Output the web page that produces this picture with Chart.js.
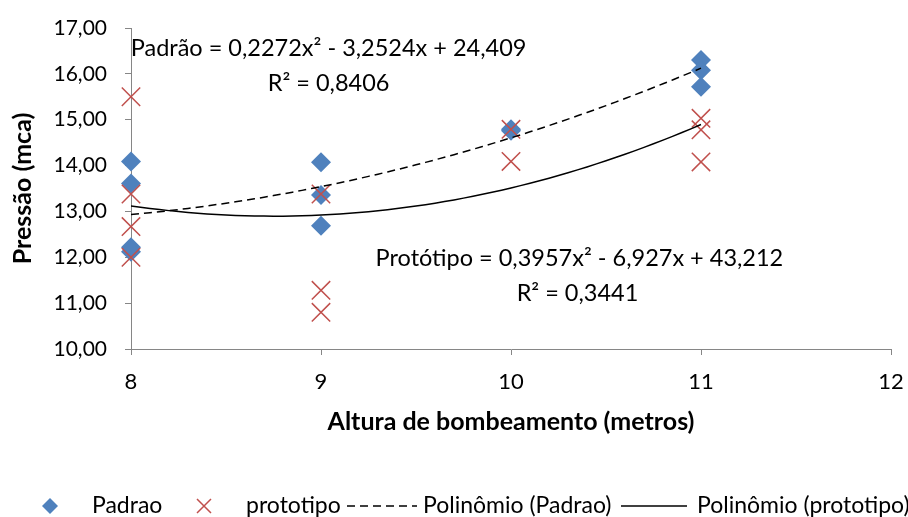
<!DOCTYPE html>
<html>
<head>
<meta charset="utf-8">
<script src="https://cdn.jsdelivr.net/npm/chart.js@4/dist/chart.umd.min.js"></script>
<style>
  body { margin: 0; background: #fff; }
  canvas { display: block; }
</style>
</head>
<body>
<canvas id="grafico" width="908" height="517"></canvas>
<script>
// ==================== dados ===================
const padraoX = [8, 8, 8, 8, 9, 9, 9, 10, 10, 11, 11, 11];
const padraoY = [14.09, 13.61, 12.22, 12.12, 14.07, 13.36, 12.69, 14.79, 14.76, 16.30, 16.08, 15.72];

const prototipoX = [8, 8, 8, 8, 9, 9, 9, 10, 10, 11, 11, 11];
const prototipoY = [15.50, 13.38, 12.67, 12.00, 13.38, 11.28, 10.80, 14.79, 14.09, 15.03, 14.78, 14.08];

const coefPadrao = [0.2272, -3.2524, 24.409];
const coefPrototipo = [0.3957, -6.927, 43.212];
const tendenciaX = [8, 11];

const yTicks = [10, 11, 12, 13, 14, 15, 16, 17];
const xTicks = [8, 9, 10, 11, 12];

const FONTE = "Lato, 'Noto Sans', sans-serif";
const TRACO = [8, 5];

function pontos(xs, ys) {
  return xs.map((x, i) => ({ x: x, y: ys[i] }));
}

// curva a partir da equacao mostrada no grafico
function curva(coef) {
  let pts = [];
  let n = 60;
  for (let i = 0; i <= n; i++) {
    let x = tendenciaX[0] + (tendenciaX[1] - tendenciaX[0]) * i / n;
    pts.push({ x: x, y: coef[0] * x * x + coef[1] * x + coef[2] });
  }
  return pts;
}

// ==================== textos das equacoes ===================
const equacoes = [
  { text: "Padrão = 0,2272x² - 3,2524x + 24,409", x: 9.04, y: 16.56 },
  { text: "R² = 0,8406", x: 9.04, y: 15.80 },
  { text: "Protótipo = 0,3957x² - 6,927x + 43,212", x: 10.36, y: 11.98 },
  { text: "R² = 0,3441", x: 10.35, y: 11.22 },
];

const pluginEquacoes = {
  id: "equacoes",
  afterDatasetsDraw(chart) {
    const ctx = chart.ctx;
    const sx = chart.scales.x;
    const sy = chart.scales.y;
    ctx.save();
    ctx.font = "23.5px " + FONTE;
    ctx.fillStyle = "#000";
    ctx.textAlign = "center";
    ctx.textBaseline = "middle";
    equacoes.forEach((e) => {
      ctx.fillText(e.text, sx.getPixelForValue(e.x), sy.getPixelForValue(e.y));
    });
    ctx.restore();
  },
};

// ==================== legenda ===================
const pluginLegenda = {
  id: "legendaExcel",
  afterDraw(chart) {
    const ctx = chart.ctx;
    const y = 506;
    ctx.save();
    ctx.font = "23px " + FONTE;
    ctx.fillStyle = "#000";
    ctx.textBaseline = "middle";
    ctx.textAlign = "left";

    // diamante
    let x = 50;
    ctx.fillStyle = "#4F81BD";
    ctx.beginPath();
    ctx.moveTo(x, y - 8);
    ctx.lineTo(x + 8, y);
    ctx.lineTo(x, y + 8);
    ctx.lineTo(x - 8, y);
    ctx.closePath();
    ctx.fill();
    ctx.fillStyle = "#000";
    ctx.fillText("Padrao", 92, y);

    // X
    x = 204;
    ctx.strokeStyle = "#C0504D";
    ctx.lineWidth = 1.5;
    ctx.beginPath();
    ctx.moveTo(x - 7, y - 7);
    ctx.lineTo(x + 7, y + 7);
    ctx.moveTo(x + 7, y - 7);
    ctx.lineTo(x - 7, y + 7);
    ctx.stroke();
    ctx.fillText("prototipo", 246, y);

    // tracejada
    ctx.strokeStyle = "#000";
    ctx.lineWidth = 1.5;
    ctx.setLineDash(TRACO);
    ctx.beginPath();
    ctx.moveTo(347, y);
    ctx.lineTo(417, y);
    ctx.stroke();
    ctx.setLineDash([]);
    ctx.fillText("Polinômio (Padrao)", 423, y);

    // continua
    ctx.beginPath();
    ctx.moveTo(621, y);
    ctx.lineTo(687, y);
    ctx.stroke();
    ctx.fillText("Polinômio (prototipo)", 697, y);
    ctx.restore();
  },
};

// ==================== grafico ===================
const ctxGrafico = document.getElementById("grafico").getContext("2d");

let grafico = new Chart(ctxGrafico, {
  type: "scatter",
  data: {
    datasets: [
      {
        label: "Polinômio (Padrao)",
        data: curva(coefPadrao),
        showLine: true,
        borderColor: "#000",
        borderWidth: 1.5,
        borderDash: TRACO,
        pointRadius: 0,
        order: 0,
      },
      {
        label: "Polinômio (prototipo)",
        data: curva(coefPrototipo),
        showLine: true,
        borderColor: "#000",
        borderWidth: 1.5,
        pointRadius: 0,
        order: 0,
      },
      {
        label: "prototipo",
        data: pontos(prototipoX, prototipoY),
        pointStyle: "crossRot",
        pointRadius: 13,
        pointBorderColor: "#C0504D",
        borderColor: "#C0504D",
        pointBorderWidth: 1.5,
        clip: false,
        order: 1,
      },
      {
        label: "Padrao",
        data: pontos(padraoX, padraoY),
        pointStyle: "rectRot",
        pointRadius: 10,
        backgroundColor: "#4F81BD",
        borderColor: "#4F81BD",
        pointBorderWidth: 0,
        clip: false,
        order: 2,
      },
    ],
  },
  options: {
    responsive: false,
    animation: false,
    devicePixelRatio: 1,
    events: [],
    layout: {
      padding: { left: 0, top: 28, right: 17, bottom: 68 },
    },
    plugins: {
      legend: { display: false },
      tooltip: { enabled: false },
    },
    scales: {
      x: {
        type: "linear",
        min: xTicks[0],
        max: xTicks[xTicks.length - 1],
        afterBuildTicks: (scale) => {
          scale.ticks = xTicks.map((v) => ({ value: v }));
        },
        afterFit: (scale) => {
          scale.height = 100;
          scale.paddingLeft = 0;
          scale.paddingRight = 0;
        },
        ticks: {
          color: "#000",
          font: { family: FONTE, size: 22 },
          padding: 14,
          maxRotation: 0,
        },
        grid: {
          drawOnChartArea: false,
          drawTicks: true,
          tickLength: 6,
          color: "#868686",
        },
        border: { color: "#868686", width: 1 },
        title: {
          display: true,
          text: "Altura de bombeamento (metros)",
          color: "#000",
          font: { family: FONTE, size: 25, weight: "bold" },
          padding: { top: 0, bottom: 12 },
        },
      },
      y: {
        min: yTicks[0],
        max: yTicks[yTicks.length - 1],
        afterBuildTicks: (scale) => {
          scale.ticks = yTicks.map((v) => ({ value: v }));
        },
        afterFit: (scale) => {
          scale.width = 131;
          scale.paddingTop = 0;
          scale.paddingBottom = 0;
        },
        ticks: {
          color: "#000",
          font: { family: FONTE, size: 21 },
          padding: 18,
          callback: (v) => v.toFixed(2).replace(".", ","),
        },
        grid: {
          drawOnChartArea: false,
          drawTicks: true,
          tickLength: 6,
          color: "#868686",
        },
        border: { color: "#868686", width: 1 },
        title: {
          display: true,
          text: "Pressão (mca)",
          color: "#000",
          font: { family: FONTE, size: 25, weight: "bold" },
          padding: { top: 8, bottom: 0 },
        },
      },
    },
  },
  plugins: [pluginEquacoes, pluginLegenda],
});
</script>
</body>
</html>
